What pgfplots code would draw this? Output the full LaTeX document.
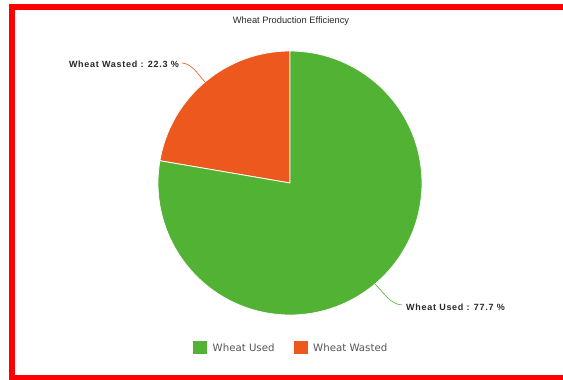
\documentclass[border=0pt]{standalone}
\usepackage{pgfplots}
\pgfplotsset{compat=1.18}
\usepackage{pgfplotstable}
\usepackage{fontspec}
\setmainfont{Liberation Sans}
\newfontfamily\legfont{DejaVu Sans}
\definecolor{used}{RGB}{82,178,52}
\definecolor{wasted}{RGB}{236,88,30}
\definecolor{frame}{RGB}{255,0,0}
\definecolor{txt}{RGB}{40,40,40}
\definecolor{legtxt}{RGB}{85,85,85}

\pgfplotstableread{
label value
Used 77.7
Wasted 22.3
}\piedata

\begin{document}
\begin{tikzpicture}
\pgfplotstablegetelem{0}{value}\of\piedata \let\vused\pgfplotsretval
\pgfplotstablegetelem{1}{value}\of\piedata \let\vwasted\pgfplotsretval
\pgfmathsetmacro{\splitangle}{90+3.6*\vwasted}
\begin{axis}[scale only axis, width=563pt, height=380pt,
  xmin=0, xmax=563, ymin=0, ymax=380, axis lines=none, clip=false,
  /pgf/number format/assume math mode=true]
% full canvas
\path (axis cs:0,0) rectangle (axis cs:563,380);
% frame
\fill[frame] (axis cs:9,0) rectangle (axis cs:15,376);
\fill[frame] (axis cs:9,370) rectangle (axis cs:563,376);
\fill[frame] (axis cs:9,0) rectangle (axis cs:563,5);
% title
\node[font=\fontsize{9.3}{11}\selectfont, text=txt] at (axis cs:291,359) {Wheat Production Efficiency};
% pie slices
\filldraw[fill=wasted, draw=white, line width=0.8pt, line join=round]
  (axis cs:290,197) -- ++(90:132pt) arc[start angle=90, end angle=\splitangle, radius=132pt] -- cycle;
\filldraw[fill=used, draw=white, line width=0.8pt, line join=round]
  (axis cs:290,197) -- ++(\splitangle:132pt) arc[start angle=\splitangle, end angle=450, radius=132pt] -- cycle;
% leader lines and labels
\draw[wasted, line width=0.6pt] (axis cs:205,298) .. controls (axis cs:197,307) and (axis cs:192,316) .. (axis cs:182,317);
\node[anchor=east, inner sep=0pt, font=\fontsize{9}{11}\selectfont\bfseries\addfontfeatures{LetterSpace=8}, text=txt]
  at (axis cs:179,316) {Wheat Wasted : \pgfmathprintnumber[fixed,precision=1,fixed zerofill,assume math mode=true]{\vwasted} \%};
\draw[used, line width=0.6pt] (axis cs:375,96) .. controls (axis cs:385,86) and (axis cs:390,76) .. (axis cs:402,75);
\node[anchor=west, inner sep=0pt, font=\fontsize{9}{11}\selectfont\bfseries\addfontfeatures{LetterSpace=8}, text=txt]
  at (axis cs:406,73) {Wheat Used : \pgfmathprintnumber[fixed,precision=1,fixed zerofill,assume math mode=true]{\vused} \%};
% legend
\fill[used] (axis cs:193,26) rectangle (axis cs:207,39);
\node[anchor=west, inner sep=0pt, font=\legfont\fontsize{10.2}{12}\selectfont, text=legtxt] at (axis cs:212.5,32.5) {Wheat Used};
\fill[wasted] (axis cs:294,26) rectangle (axis cs:308,39);
\node[anchor=west, inner sep=0pt, font=\legfont\fontsize{10.2}{12}\selectfont, text=legtxt] at (axis cs:313,32.5) {Wheat Wasted};
\end{axis}
\end{tikzpicture}
\end{document}
